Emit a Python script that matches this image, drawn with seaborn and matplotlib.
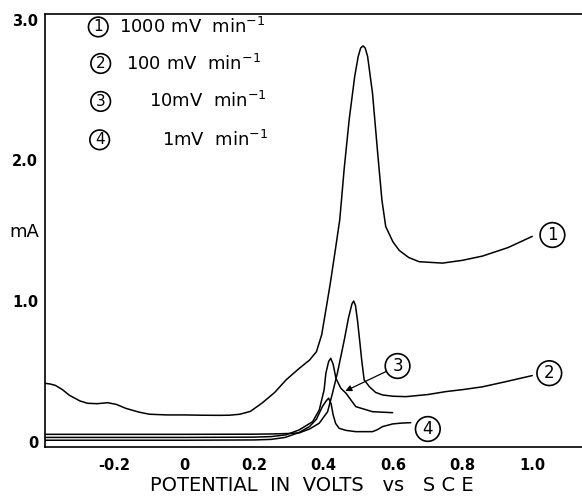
import matplotlib
matplotlib.use("Agg")
import matplotlib.pyplot as plt
import pandas as pd
import seaborn as sns

sns.set_theme(style="white")
plt.rcParams["font.family"] = ["DejaVu Sans"]
plt.rcParams["text.color"] = "black"
plt.rcParams["axes.labelcolor"] = "black"
plt.rcParams["xtick.color"] = "black"
plt.rcParams["ytick.color"] = "black"

# ---- data (potential V vs SCE, current mA) ----
x1 = [-0.40, -0.385, -0.37, -0.35, -0.33, -0.30, -0.278, -0.25, -0.22, -0.195,
      -0.168, -0.13, -0.10, -0.05, 0.00, 0.05, 0.10, 0.13, 0.16, 0.19, 0.224,
      0.26, 0.293, 0.33, 0.36, 0.38, 0.395, 0.41, 0.42, 0.434, 0.447, 0.46, 0.474,
      0.49, 0.50, 0.507, 0.514, 0.52, 0.527, 0.541, 0.556, 0.568, 0.579, 0.60,
      0.618, 0.645, 0.675, 0.742, 0.80, 0.857, 0.93, 1.00]
y1 = [0.415, 0.41, 0.40, 0.37, 0.33, 0.29, 0.273, 0.27, 0.277, 0.265,
      0.237, 0.21, 0.195, 0.19, 0.19, 0.188, 0.187, 0.188, 0.195, 0.215, 0.275,
      0.35, 0.44, 0.52, 0.58, 0.64, 0.76, 0.98, 1.13, 1.36, 1.58, 1.95, 2.29,
      2.60, 2.74, 2.80, 2.815, 2.80, 2.74, 2.48, 2.05, 1.72, 1.53, 1.42,
      1.36, 1.31, 1.28, 1.27, 1.29, 1.32, 1.38, 1.46]

x2 = [-0.40, 0.00, 0.20, 0.26, 0.30, 0.33, 0.36, 0.388, 0.412, 0.426, 0.44,
      0.46, 0.472, 0.482, 0.487, 0.492, 0.498, 0.505, 0.51, 0.517, 0.532, 0.55,
      0.57, 0.60, 0.637, 0.70, 0.752, 0.80, 0.857, 0.93, 1.00]
y2 = [0.052, 0.052, 0.053, 0.055, 0.058, 0.062, 0.09, 0.131, 0.213, 0.344, 0.486,
      0.724, 0.88, 0.98, 1.00, 0.97, 0.86, 0.70, 0.58, 0.44, 0.391, 0.35,
      0.332, 0.323, 0.32, 0.335, 0.356, 0.37, 0.39, 0.43, 0.47]

x3 = [-0.40, 0.00, 0.20, 0.25, 0.292, 0.33, 0.369, 0.388, 0.402, 0.407,
      0.415, 0.421, 0.428, 0.436, 0.45, 0.465, 0.493, 0.541, 0.599]
y3 = [0.03, 0.03, 0.032, 0.036, 0.048, 0.083, 0.142, 0.225, 0.368, 0.486,
      0.57, 0.593, 0.55, 0.45, 0.38, 0.344, 0.249, 0.213, 0.206]

x4 = [-0.40, 0.00, 0.20, 0.25, 0.29, 0.33, 0.36, 0.38, 0.397, 0.408, 0.415,
      0.422, 0.428, 0.435, 0.445, 0.465, 0.493, 0.541, 0.555, 0.57, 0.599,
      0.625, 0.651]
y4 = [0.01, 0.01, 0.012, 0.016, 0.03, 0.065, 0.107, 0.16, 0.249, 0.29, 0.309,
      0.27, 0.19, 0.13, 0.095, 0.08, 0.071, 0.071, 0.085, 0.107, 0.126,
      0.132, 0.135]

rate_ids = ["1", "2", "3", "4"]
rate_texts = [r"1000 mV  min$^{-1}$", r"100 mV  min$^{-1}$",
              r"10mV  min$^{-1}$", r"1mV  min$^{-1}$"]

xticks = [-0.2, 0.0, 0.2, 0.4, 0.6, 0.8, 1.0]
xtick_labels = ["-0.2", "0", "0.2", "0.4", "0.6", "0.8", "1.0"]
yticks = [0, 1, 2, 3]
ytick_labels = ["0", "1.0", "2.0", "3.0"]

frames = []
for rid, xs, ys in zip(rate_ids, [x1, x2, x3, x4], [y1, y2, y3, y4]):
    frames.append(pd.DataFrame({"E": xs, "I": ys, "curve": rid}))
df = pd.concat(frames, ignore_index=True)

# ---- figure ----
W, H = 582, 496
fig = plt.figure(figsize=(W / 100, H / 100), dpi=100)
left, right, top, bottom = 45, 582, 14, 446.7
ax = fig.add_axes([left / W, 1 - bottom / H, (right - left) / W, (bottom - top) / H])

for rid in rate_ids:
    sub = df[df["curve"] == rid]
    sns.lineplot(data=sub, x="E", y="I", ax=ax, color="black", linewidth=1.1,
                 estimator=None, sort=False, legend=False)

ax.set_xlim(-0.40, 1.143)
ax.set_ylim(-0.036, 3.042)

ax.set_xticks(xticks)
ax.set_xticklabels(xtick_labels, fontsize=10.5, fontweight="bold")
ax.set_yticks(yticks)
ax.set_yticklabels(ytick_labels, fontsize=10.5, fontweight="bold")
ax.tick_params(axis="x", direction="in", length=6, width=1, pad=8, colors="black")
ax.tick_params(axis="y", direction="in", length=6, width=1, pad=5, colors="black")

for side in ["left", "bottom", "top"]:
    ax.spines[side].set_visible(True)
    ax.spines[side].set_color("black")
    ax.spines[side].set_linewidth(1.2)
ax.spines["right"].set_visible(False)

ax.set_xlabel("POTENTIAL  IN  VOLTS   vs   S C E", fontsize=14, color="black")
ax.xaxis.set_label_coords(0.497, -0.068)
ax.set_ylabel("mA", fontsize=13, rotation=0, ha="center", va="center", color="black")
ax.yaxis.set_label_coords(-0.039, 0.496)

circ = dict(boxstyle="circle,pad=0.2", fc="white", ec="black", lw=1.2)

# curve labels
ax.text(1.058, 1.47, "1", fontsize=12, ha="center", va="center", bbox=circ)
ax.text(1.049, 0.487, "2", fontsize=12, ha="center", va="center", bbox=circ)
ax.text(0.70, 0.09, "4", fontsize=12, ha="center", va="center", bbox=circ)
ax.annotate("3", xy=(0.463, 0.36), xytext=(0.613, 0.538), fontsize=12,
            ha="center", va="center", bbox=circ,
            arrowprops=dict(arrowstyle="-|>", color="black", lw=0.9,
                            mutation_scale=9, shrinkA=0, shrinkB=0))

# rate legend
circ2 = dict(boxstyle="circle,pad=0.15", fc="white", ec="black", lw=1.2)
leg_y = [2.95, 2.69, 2.42, 2.147]
leg_cx = [-0.247, -0.240, -0.240, -0.243]
leg_tx = [-0.187, -0.167, -0.10, -0.063]
for rid, txt, yy, cx, tx in zip(rate_ids, rate_texts, leg_y, leg_cx, leg_tx):
    ax.text(cx, yy, rid, fontsize=11, ha="center", va="center", bbox=circ2)
    ax.text(tx, yy, txt, fontsize=13, ha="left", va="center")

fig.savefig("out.png", dpi=100)
